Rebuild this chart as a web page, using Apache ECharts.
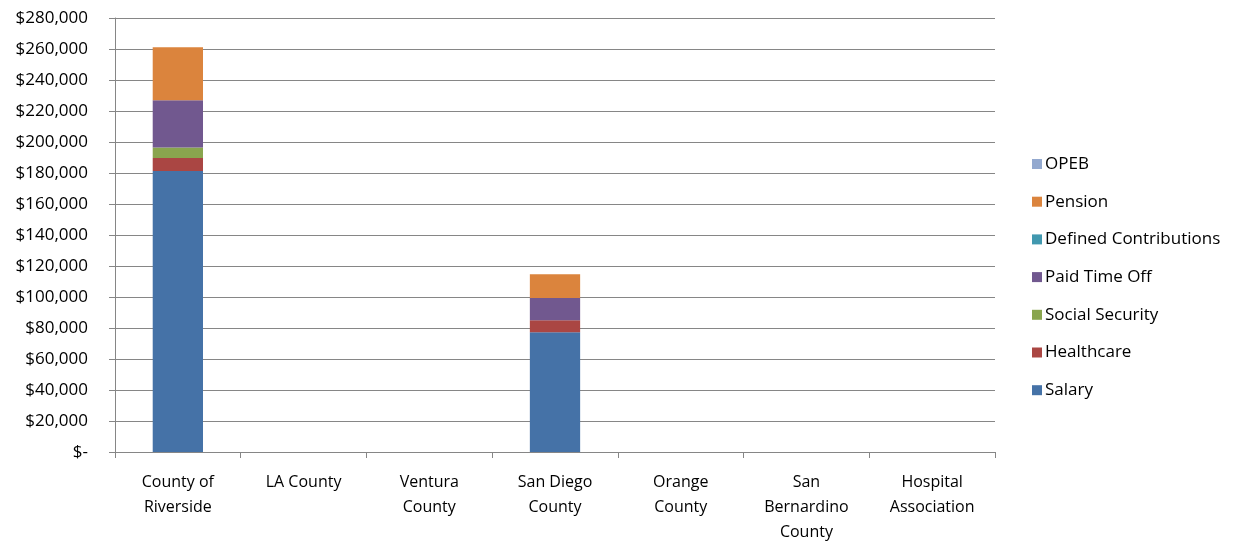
<!DOCTYPE html>
<html><head><meta charset="utf-8">
<script src="https://cdn.jsdelivr.net/npm/echarts@6/dist/echarts.min.js"></script>
<style>html,body{margin:0;padding:0;background:#fff}#c{width:1235px;height:545px}</style>
</head><body><div id="c"></div>
<script>
const categories = ["County of\nRiverside","LA County","Ventura\nCounty","San Diego\nCounty","Orange\nCounty","San\nBernardino\nCounty","Hospital\nAssociation"];
const salary = [181300, 0, 0, 77300, 0, 0, 0];
const healthcare = [8400, 0, 0, 7700, 0, 0, 0];
const socialSecurity = [6800, 0, 0, 0, 0, 0, 0];
const paidTimeOff = [30500, 0, 0, 14300, 0, 0, 0];
const definedContributions = [0, 0, 0, 0, 0, 0, 0];
const pension = [34200, 0, 0, 15400, 0, 0, 0];
const opeb = [0, 0, 0, 0, 0, 0, 0];
const yTicks = {min: 0, max: 280000, interval: 20000};

const seriesDefs = [
  ["Salary", salary, "#4572A7"],
  ["Healthcare", healthcare, "#AA4643"],
  ["Social Security", socialSecurity, "#89A54E"],
  ["Paid Time Off", paidTimeOff, "#71588F"],
  ["Defined Contributions", definedContributions, "#4198AF"],
  ["Pension", pension, "#DB843D"],
  ["OPEB", opeb, "#93A9CF"]
];
const font = "'Open Sans', sans-serif";
const chart = echarts.init(document.getElementById('c'), null, {renderer: 'canvas'});
chart.setOption({
  animation: false,
  textStyle: {fontFamily: font},
  grid: {left: 115, right: 240, top: 18, bottom: 90, containLabel: false},
  legend: {
    orient: 'vertical', left: 1027, top: 149,
    data: seriesDefs.map(s => s[0]).reverse(),
    icon: 'rect', itemWidth: 10, itemHeight: 10, itemGap: 17.7,
    textStyle: {fontSize: 17, color: '#000', fontFamily: font, lineHeight: 20, padding: [0,0,0,-2]}
  },
  xAxis: {
    type: 'category', data: categories,
    axisLine: {lineStyle: {color: '#868686'}},
    axisTick: {show: true, length: 6, lineStyle: {color: '#868686'}},
    axisLabel: {fontSize: 16, color: '#000', lineHeight: 25, margin: 18, interval: 0, fontFamily: font}
  },
  yAxis: {
    type: 'value', min: yTicks.min, max: yTicks.max, interval: yTicks.interval,
    axisLine: {show: true, lineStyle: {color: '#868686'}},
    axisTick: {show: true, length: 6, lineStyle: {color: '#868686'}},
    splitLine: {lineStyle: {color: '#868686'}},
    axisLabel: {fontSize: 17, color: '#000', margin: 27, fontFamily: font,
      formatter: v => v === 0 ? '$-' : '$' + v.toLocaleString('en-US')}
  },
  series: seriesDefs.map(([name, data, color]) => ({
    name, type: 'bar', stack: 'total', data, barWidth: '40%',
    itemStyle: {color}
  }))
});
</script></body></html>
